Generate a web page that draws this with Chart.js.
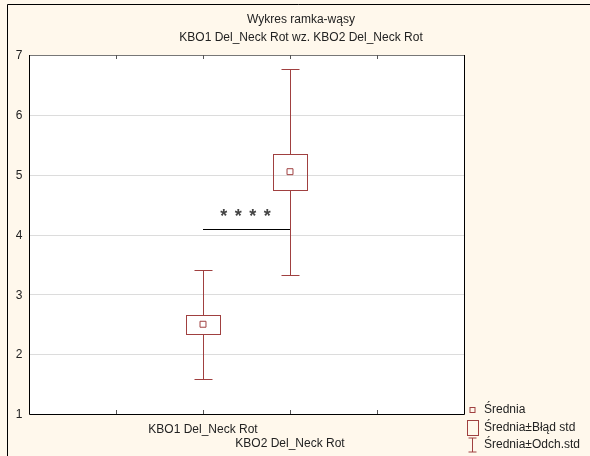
<!DOCTYPE html>
<html>
<head>
<meta charset="utf-8">
<title>Wykres ramka-wąsy</title>
<script src="https://cdn.jsdelivr.net/npm/chart.js@4.4.1/dist/chart.umd.min.js"></script>
<style>
    html, body { margin: 0; padding: 0; background: #fff8ec; }
</style>
</head>
<body>
<canvas id="boxChart" width="590" height="456"></canvas>
<script>
// dane
const categories = ['KBO1 Del_Neck Rot', 'KBO2 Del_Neck Rot'];
const positions = [2, 3];
const means = [2.50, 5.05];
const seLow = [2.34, 4.75];
const seHigh = [2.66, 5.35];
const sdLow = [1.59, 3.33];
const sdHigh = [3.41, 6.77];
const yTicks = [1, 2, 3, 4, 5, 6, 7];
const xTicks = [1, 2, 3, 4];
const sigLevel = 4.09;
const sigStars = ['*', '*', '*', '*'];
const titleLines = ['Wykres ramka-wąsy', 'KBO1 Del_Neck Rot wz. KBO2 Del_Neck Rot'];
const legendLabels = ['Średnia', 'Średnia±Błąd std', 'Średnia±Odch.std'];

const boxColor = '#a04040';
const font = '12px "Liberation Sans", Arial, sans-serif';

const boxPlugin = {
    id: 'boxPlugin',
    beforeDraw(chart) {
        const ctx = chart.ctx;
        const area = chart.chartArea;
        const y = chart.scales.y;
        ctx.save();
        ctx.fillStyle = '#fff8ec';
        ctx.fillRect(0, 0, chart.width, chart.height);
        // ramka zewnętrzna
        ctx.strokeStyle = '#000';
        ctx.lineWidth = 1;
        ctx.beginPath();
        ctx.moveTo(7.5, chart.height);
        ctx.lineTo(7.5, 4.5);
        ctx.lineTo(chart.width, 4.5);
        ctx.stroke();
        // pole wykresu
        ctx.fillStyle = '#fff';
        ctx.fillRect(area.left, area.top, area.right - area.left, area.bottom - area.top);
        // linie siatki
        ctx.strokeStyle = '#dcdcdc';
        yTicks.forEach(t => {
            if (t === y.min || t === y.max) return;
            const py = Math.round(y.getPixelForValue(t)) + 0.5;
            ctx.beginPath();
            ctx.moveTo(area.left, py);
            ctx.lineTo(area.right, py);
            ctx.stroke();
        });
        ctx.restore();
    },
    beforeDatasetsDraw(chart) {
        const ctx = chart.ctx;
        const x = chart.scales.x;
        const y = chart.scales.y;
        ctx.save();
        ctx.strokeStyle = boxColor;
        ctx.lineWidth = 1;
        positions.forEach((pos, i) => {
            const px = Math.round(x.getPixelForValue(pos)) + 0.5;
            const top = Math.round(y.getPixelForValue(seHigh[i])) + 0.5;
            const bot = Math.round(y.getPixelForValue(seLow[i])) + 0.5;
            const wTop = Math.round(y.getPixelForValue(sdHigh[i])) + 0.5;
            const wBot = Math.round(y.getPixelForValue(sdLow[i])) + 0.5;
            ctx.beginPath();
            ctx.moveTo(px, wTop); ctx.lineTo(px, top);
            ctx.moveTo(px, bot); ctx.lineTo(px, wBot);
            ctx.moveTo(px - 9, wTop); ctx.lineTo(px + 9, wTop);
            ctx.moveTo(px - 9, wBot); ctx.lineTo(px + 9, wBot);
            ctx.stroke();
            ctx.strokeRect(px - 17, top, 34, bot - top);
        });
        // linia istotności
        const sy = Math.round(y.getPixelForValue(sigLevel)) + 0.5;
        const x1 = x.getPixelForValue(positions[0]);
        const x2 = x.getPixelForValue(positions[1]);
        ctx.strokeStyle = '#000';
        ctx.beginPath();
        ctx.moveTo(x1, sy);
        ctx.lineTo(x2, sy);
        ctx.stroke();
        ctx.fillStyle = '#444';
        ctx.font = 'bold 18px "Liberation Sans", Arial, sans-serif';
        ctx.textAlign = 'center';
        ctx.textBaseline = 'alphabetic';
        const mid = (x1 + x2) / 2 - 1;
        sigStars.forEach((s, k) => {
            ctx.fillText(s, mid + (k - (sigStars.length - 1) / 2) * 14.5, sy - 8);
        });
        ctx.restore();
    },
    afterDraw(chart) {
        const ctx = chart.ctx;
        const area = chart.chartArea;
        const x = chart.scales.x;
        const y = chart.scales.y;
        ctx.save();
        // obramowanie pola wykresu
        ctx.lineWidth = 1;
        ctx.strokeStyle = '#777';
        ctx.beginPath();
        ctx.moveTo(area.left, area.top + 0.5);
        ctx.lineTo(area.right, area.top + 0.5);
        ctx.stroke();
        ctx.strokeStyle = '#000';
        ctx.beginPath();
        ctx.moveTo(area.left + 0.5, area.top);
        ctx.lineTo(area.left + 0.5, area.bottom + 0.5);
        ctx.lineTo(area.right + 0.5, area.bottom + 0.5);
        ctx.lineTo(area.right + 0.5, area.top);
        ctx.stroke();
        // znaczniki osi X
        ctx.strokeStyle = '#555';
        xTicks.forEach(t => {
            const px = Math.round(x.getPixelForValue(t)) + 0.5;
            ctx.beginPath();
            ctx.moveTo(px, area.top); ctx.lineTo(px, area.top + 4);
            ctx.moveTo(px, area.bottom); ctx.lineTo(px, area.bottom - 4);
            ctx.stroke();
        });
        ctx.font = font;
        ctx.fillStyle = '#222';
        // etykiety osi Y
        ctx.textAlign = 'center';
        ctx.textBaseline = 'middle';
        yTicks.forEach(t => {
            ctx.fillText(String(t), 19, y.getPixelForValue(t) + 1);
        });
        // etykiety kategorii
        categories.forEach((c, i) => {
            ctx.fillText(c, x.getPixelForValue(positions[i]), 430 + i * 14);
        });
        // tytuł
        titleLines.forEach((t, i) => {
            ctx.fillText(t, 301, 20 + i * 18);
        });
        // legenda
        ctx.textAlign = 'left';
        const lx = 472.5;
        const rows = [410, 428, 445];
        legendLabels.forEach((l, i) => {
            ctx.fillStyle = '#222';
            ctx.fillText(l, 484, rows[i]);
        });
        ctx.strokeStyle = boxColor;
        ctx.fillStyle = '#fff';
        ctx.strokeRect(lx - 2.5, rows[0] - 2.5, 5, 5);
        ctx.strokeRect(lx - 5, rows[1] - 7.5, 11, 15);
        ctx.beginPath();
        ctx.moveTo(lx, rows[2] - 7); ctx.lineTo(lx, rows[2] + 7);
        ctx.moveTo(lx - 4, rows[2] - 7); ctx.lineTo(lx + 4, rows[2] - 7);
        ctx.moveTo(lx - 4, rows[2] + 7); ctx.lineTo(lx + 4, rows[2] + 7);
        ctx.stroke();
        ctx.restore();
    }
};

const ctx = document.getElementById('boxChart').getContext('2d');
const myChart = new Chart(ctx, {
    type: 'scatter',
    data: {
        datasets: [{
            label: 'Średnia',
            data: positions.map((p, i) => ({ x: p, y: means[i] })),
            pointStyle: 'rect',
            pointRadius: 4.2,
            pointBorderWidth: 1,
            borderColor: boxColor,
            backgroundColor: '#fff'
        }]
    },
    options: {
        responsive: false,
        animation: false,
        layout: { padding: { left: 29, top: 55, right: 126, bottom: 42 } },
        scales: {
            x: { type: 'linear', min: 0, max: 5, display: false },
            y: { type: 'linear', min: 1, max: 7, display: false }
        },
        plugins: {
            legend: { display: false },
            tooltip: { enabled: false },
            title: { display: false }
        }
    },
    plugins: [boxPlugin]
});
</script>
</body>
</html>
